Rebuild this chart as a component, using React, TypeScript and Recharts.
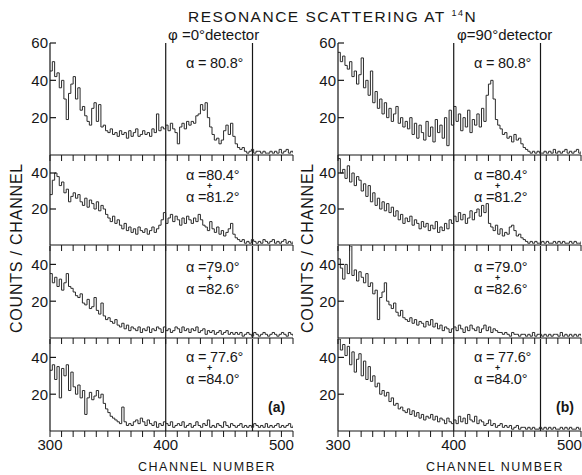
import React from "react";
import { LineChart, Line, XAxis, YAxis, ReferenceLine } from "recharts";

// channel numbers (2-channel bins)
const CHANNELS = [
  300, 302, 304, 306, 308, 310, 312, 314, 316, 318,
  320, 322, 324, 326, 328, 330, 332, 334, 336, 338,
  340, 342, 344, 346, 348, 350, 352, 354, 356, 358,
  360, 362, 364, 366, 368, 370, 372, 374, 376, 378,
  380, 382, 384, 386, 388, 390, 392, 394, 396, 398,
  400, 402, 404, 406, 408, 410, 412, 414, 416, 418,
  420, 422, 424, 426, 428, 430, 432, 434, 436, 438,
  440, 442, 444, 446, 448, 450, 452, 454, 456, 458,
  460, 462, 464, 466, 468, 470, 472, 474, 476, 478,
  480, 482, 484, 486, 488, 490, 492, 494, 496, 498,
  500, 502, 504, 506, 508, 510,
];

const X_TICKS = [300, 310, 320, 330, 340, 350, 360, 370, 380, 390, 400, 410, 420, 430, 440, 450, 460, 470, 480, 490, 500, 510];
const X_LABELS = [300, 400, 500];
const MARKERS = [400, 475];

// phi = 0 deg detector
const PHI0_A808 = [
  45, 50, 42, 44, 36, 40, 30, 19, 33, 38,
  42, 30, 36, 24, 26, 21, 18, 16, 25, 28,
  18, 27, 15, 16, 13, 12, 14, 11, 12, 10,
  13, 11, 12, 9, 13, 10, 12, 14, 10, 11,
  13, 11, 12, 10, 14, 12, 22, 13, 15, 14,
  16, 13, 17, 14, 12, 6, 15, 17, 14, 18,
  16, 18, 17, 21, 22, 27, 24, 28, 20, 15,
  11, 8, 9, 6, 8, 13, 16, 11, 17, 10,
  6, 4, 3, 4, 2, 1, 2, 3, 1, 2,
  2, 1, 2, 1, 1, 2, 1, 2, 1, 3,
  1, 2, 3, 1, 2, 1,
];
const PHI0_A804 = [
  28, 36, 40, 38, 33, 35, 29, 31, 24, 27,
  29, 26, 28, 24, 22, 26, 21, 25, 23, 20,
  24, 19, 22, 20, 17, 15, 13, 16, 12, 14,
  11, 9, 12, 8, 10, 7, 9, 6, 10, 8,
  7, 9, 6, 8, 10, 7, 9, 11, 14, 18,
  12, 15, 17, 13, 16, 14, 11, 15, 12, 16,
  14, 12, 15, 13, 17, 14, 11, 10, 8, 13,
  9, 7, 10, 6, 8, 5, 7, 9, 12, 6,
  4, 3, 2, 3, 1, 2, 1, 3, 2, 1,
  2, 1, 3, 2, 1, 2, 3, 1, 2, 1,
  2, 3, 1, 2, 1, 2,
];
const PHI0_A790 = [
  35, 30, 33, 28, 32, 26, 30, 35, 28, 27,
  25, 23, 22, 24, 19, 18, 21, 16, 17, 22,
  15, 13, 19, 12, 10, 11, 9, 8, 10, 7,
  6, 8, 5, 7, 4, 6, 5, 4, 6, 3,
  5, 4, 6, 3, 5, 4, 6, 5, 3, 6,
  4, 5, 3, 4, 6, 5, 3, 6, 4, 5,
  3, 5, 4, 6, 3, 4, 5, 2, 4, 3,
  4, 2, 3, 4, 2, 3, 4, 2, 3, 2,
  3, 2, 3, 1, 2, 3, 2, 1, 3, 2,
  1, 2, 3, 2, 1, 2, 3, 2, 1, 2,
  3, 2, 1, 3, 2, 1,
];
const PHI0_A776 = [
  33, 36, 28, 35, 18, 34, 30, 36, 22, 32,
  24, 20, 25, 18, 22, 9, 18, 21, 17, 19,
  22, 18, 20, 15, 12, 10, 8, 7, 6, 5,
  4, 13, 5, 3, 4, 3, 5, 6, 4, 7,
  5, 3, 6, 4, 3, 5, 2, 4, 3, 5,
  4, 3, 5, 2, 3, 4, 3, 5, 2, 3,
  4, 2, 3, 5, 3, 2, 4, 3, 6, 2,
  3, 2, 4, 3, 2, 5, 3, 2, 4, 3,
  2, 3, 4, 2, 3, 2, 3, 2, 4, 3,
  2, 3, 2, 4, 2, 3, 2, 3, 4, 2,
  3, 2, 3, 4, 2, 3,
];

// phi = 90 deg detector
const PHI90_A808 = [
  55, 50, 53, 48, 46, 50, 42, 45, 38, 43,
  52, 36, 40, 32, 45, 28, 34, 25, 30, 22,
  28, 20, 25, 18, 22, 26, 17, 20, 15, 18,
  14, 20, 11, 17, 9, 16, 12, 8, 18, 10,
  15, 7, 19, 12, 16, 9, 20, 5, 24, 16,
  26, 18, 22, 13, 20, 15, 24, 12, 19, 16,
  22, 15, 25, 18, 32, 38, 40, 30, 19, 16,
  14, 11, 12, 9, 10, 7, 11, 8, 9, 6,
  4, 3, 2, 1, 2, 1, 2, 1, 1, 2,
  1, 2, 1, 3, 1, 2, 1, 2, 3, 1,
  2, 1, 2, 3, 1, 2,
];
const PHI90_A804 = [
  48, 40, 42, 37, 44, 35, 40, 33, 38, 36,
  30, 34, 27, 33, 24, 29, 22, 26, 20, 24,
  19, 23, 18, 21, 16, 19, 14, 17, 12, 15,
  13, 16, 11, 14, 12, 9, 13, 10, 12, 8,
  11, 9, 13, 7, 10, 8, 12, 9, 14, 12,
  16, 13, 18, 14, 17, 12, 15, 19, 14, 18,
  20, 16, 22, 18, 23, 12, 10, 8, 11, 6,
  9, 5, 7, 6, 10, 11, 8, 5, 6, 4,
  3, 2, 1, 2, 1, 2, 1, 1, 2, 1,
  2, 1, 1, 2, 1, 2, 1, 2, 1, 1,
  2, 1, 2, 1, 1, 2,
];
const PHI90_A790 = [
  43, 38, 32, 40, 35, 50, 34, 37, 31, 36,
  33, 30, 35, 28, 30, 24, 26, 10, 22, 25,
  30, 20, 18, 16, 19, 14, 12, 15, 11, 10,
  9, 11, 8, 10, 7, 9, 8, 6, 9, 7,
  10, 6, 8, 5, 7, 4, 6, 5, 3, 5,
  6, 4, 7, 5, 3, 6, 4, 7, 5, 4,
  6, 3, 5, 7, 4, 6, 3, 5, 4, 3,
  3, 2, 3, 2, 1, 3, 2, 2, 1, 2,
  2, 1, 2, 1, 3, 1, 2, 2, 1, 2,
  1, 2, 1, 2, 2, 1, 3, 1, 2, 1,
  2, 1, 2, 1, 2, 1,
];
const PHI90_A776 = [
  50, 44, 47, 41, 46, 36, 43, 32, 39, 42,
  30, 38, 28, 35, 27, 30, 24, 26, 20, 22,
  19, 21, 16, 18, 14, 15, 12, 13, 11, 10,
  12, 9, 11, 8, 10, 7, 9, 6, 8, 7,
  9, 6, 8, 5, 7, 6, 4, 7, 5, 4,
  6, 4, 8, 5, 7, 4, 9, 6, 5, 8,
  4, 6, 5, 3, 4, 6, 3, 4, 2, 3,
  4, 2, 3, 2, 3, 1, 2, 3, 1, 2,
  2, 1, 2, 1, 2, 1, 1, 2, 1, 2,
  1, 2, 1, 2, 1, 1, 2, 1, 2, 1,
  2, 1, 1, 2, 1, 2,
];

const ALPHA_LABELS = [
  ["α = 80.8°"],
  ["α =80.4°", "α =81.2°"],
  ["α =79.0°", "α =82.6°"],
  ["α = 77.6°", "α =84.0°"],
];

const INK = "#161616";
const FONT = "'Liberation Sans', Arial, sans-serif";

// panel geometry (plot areas)
const PANELS = [
  { top: 43, h: 112, ymax: 60, ticks: [20, 40, 60] },
  { top: 155, h: 90, ymax: 50, ticks: [20, 40] },
  { top: 246, h: 92, ymax: 50, ticks: [20, 40] },
  { top: 339, h: 92, ymax: 50, ticks: [20, 40] },
];
const PLOT_W = 243;
const AXIS_W = 40;
const MT = 10;
const MR = 16;

const toRows = (vals: number[]) => CHANNELS.map((ch, i) => ({ ch, v: vals[i] }));

const YTick = (props: any) => {
  const { x, y, payload } = props;
  return (
    <g>
      <line x1={x + 4} x2={x + 10} y1={y} y2={y} stroke={INK} strokeWidth={1.2} />
      <text x={x + 2} y={y} dy="0.36em" textAnchor="end" fontSize={15} fontFamily={FONT} fill={INK}>
        {payload.value}
      </text>
    </g>
  );
};

const makeXTick = (labels: boolean) => (props: any) => {
  const { x, y, payload } = props;
  if (!labels || !X_LABELS.includes(payload.value)) return <g />;
  return (
    <text x={x} y={y + 11} textAnchor="middle" fontSize={15} fontFamily={FONT} fill={INK}>
      {payload.value}
    </text>
  );
};

function Panel({ series, idx, plotLeft }: { series: number[]; idx: number; plotLeft: number }) {
  const p = PANELS[idx];
  const last = idx === PANELS.length - 1;
  const xh = last ? 30 : 8;
  return (
    <div style={{ position: "absolute", left: plotLeft - AXIS_W, top: p.top - MT }}>
      <LineChart
        width={AXIS_W + PLOT_W + MR}
        height={MT + p.h + xh}
        data={toRows(series)}
        margin={{ top: MT, right: MR, bottom: 0, left: 0 }}
      >
        <XAxis
          dataKey="ch"
          type="number"
          domain={[300, 510]}
          allowDataOverflow
          ticks={X_TICKS}
          interval={0}
          height={xh}
          tickSize={6}
          tickMargin={2}
          axisLine={{ stroke: INK, strokeWidth: 1.2 }}
          tickLine={{ stroke: INK, strokeWidth: 1 }}
          tick={makeXTick(last)}
        />
        <YAxis
          type="number"
          domain={[0, p.ymax]}
          allowDataOverflow
          ticks={p.ticks}
          interval={0}
          width={AXIS_W}
          tickSize={0}
          tickMargin={4}
          tickLine={false}
          axisLine={{ stroke: INK, strokeWidth: 1.2 }}
          tick={YTick}
        />
        {MARKERS.map((m) => (
          <ReferenceLine key={m} x={m} stroke={INK} strokeWidth={1.2} />
        ))}
        <Line
          type="stepAfter"
          dataKey="v"
          stroke="#2a2a2a"
          strokeWidth={1}
          dot={false}
          isAnimationActive={false}
        />
      </LineChart>
    </div>
  );
}

const LEFT_SERIES = [PHI0_A808, PHI0_A804, PHI0_A790, PHI0_A776];
const RIGHT_SERIES = [PHI90_A808, PHI90_A804, PHI90_A790, PHI90_A776];

// first line baseline per panel; the "+" and second line follow with fixed offsets
const LABEL_Y = [68, 180, 272, 362];

function Labels({ x, letter, phi, phiX, yLabelX, axisCenter }: any) {
  return (
    <g fontFamily={FONT} fill={INK}>
      <text x={phiX} y={40} fontSize={15}>{phi}</text>
      {ALPHA_LABELS.map((lines, i) => (
        <text key={i} x={x} y={LABEL_Y[i]} fontSize={14.5} letterSpacing={-0.2}>
          <tspan>{lines[0]}</tspan>
          {lines[1] && (
            <>
              <tspan x={x + 21} dy={9} fontSize={9} fontWeight="bold">+</tspan>
              <tspan x={x} dy={13}>{lines[1]}</tspan>
            </>
          )}
        </text>
      ))}
      <text x={x + 82} y={412} fontSize={14} fontWeight="bold">{letter}</text>
      <text
        x={yLabelX}
        y={248}
        fontSize={16}
        letterSpacing={0.8}
        textAnchor="middle"
        transform={`rotate(-90 ${yLabelX} 248)`}
      >
        COUNTS / CHANNEL
      </text>
      <text x={axisCenter} y={471} fontSize={12.5} letterSpacing={1.5} textAnchor="middle">
        CHANNEL NUMBER
      </text>
    </g>
  );
}

export default function App() {
  return (
    <div style={{ position: "absolute", left: 0, top: 0, width: 582, height: 475, background: "#fff", overflow: "hidden" }}>
      {LEFT_SERIES.map((s, i) => (
        <Panel key={"l" + i} series={s} idx={i} plotLeft={50} />
      ))}
      {RIGHT_SERIES.map((s, i) => (
        <Panel key={"r" + i} series={s} idx={i} plotLeft={338} />
      ))}
      <svg width={582} height={475} style={{ position: "absolute", left: 0, top: 0, pointerEvents: "none" }}>
        <text x={188} y={22} fontSize={15.5} letterSpacing={1.5} fontFamily={FONT} fill={INK}>
          RESONANCE SCATTERING AT <tspan fontSize={9} dy={-6}>14</tspan>
          <tspan dy={6}>N</tspan>
        </text>
        <Labels x={186} letter="(a)" phi="φ =0°detector" phiX={168} yLabelX={22} axisCenter={207} />
        <Labels x={474} letter="(b)" phi="φ=90°detector" phiX={457} yLabelX={313} axisCenter={495} />
      </svg>
    </div>
  );
}
